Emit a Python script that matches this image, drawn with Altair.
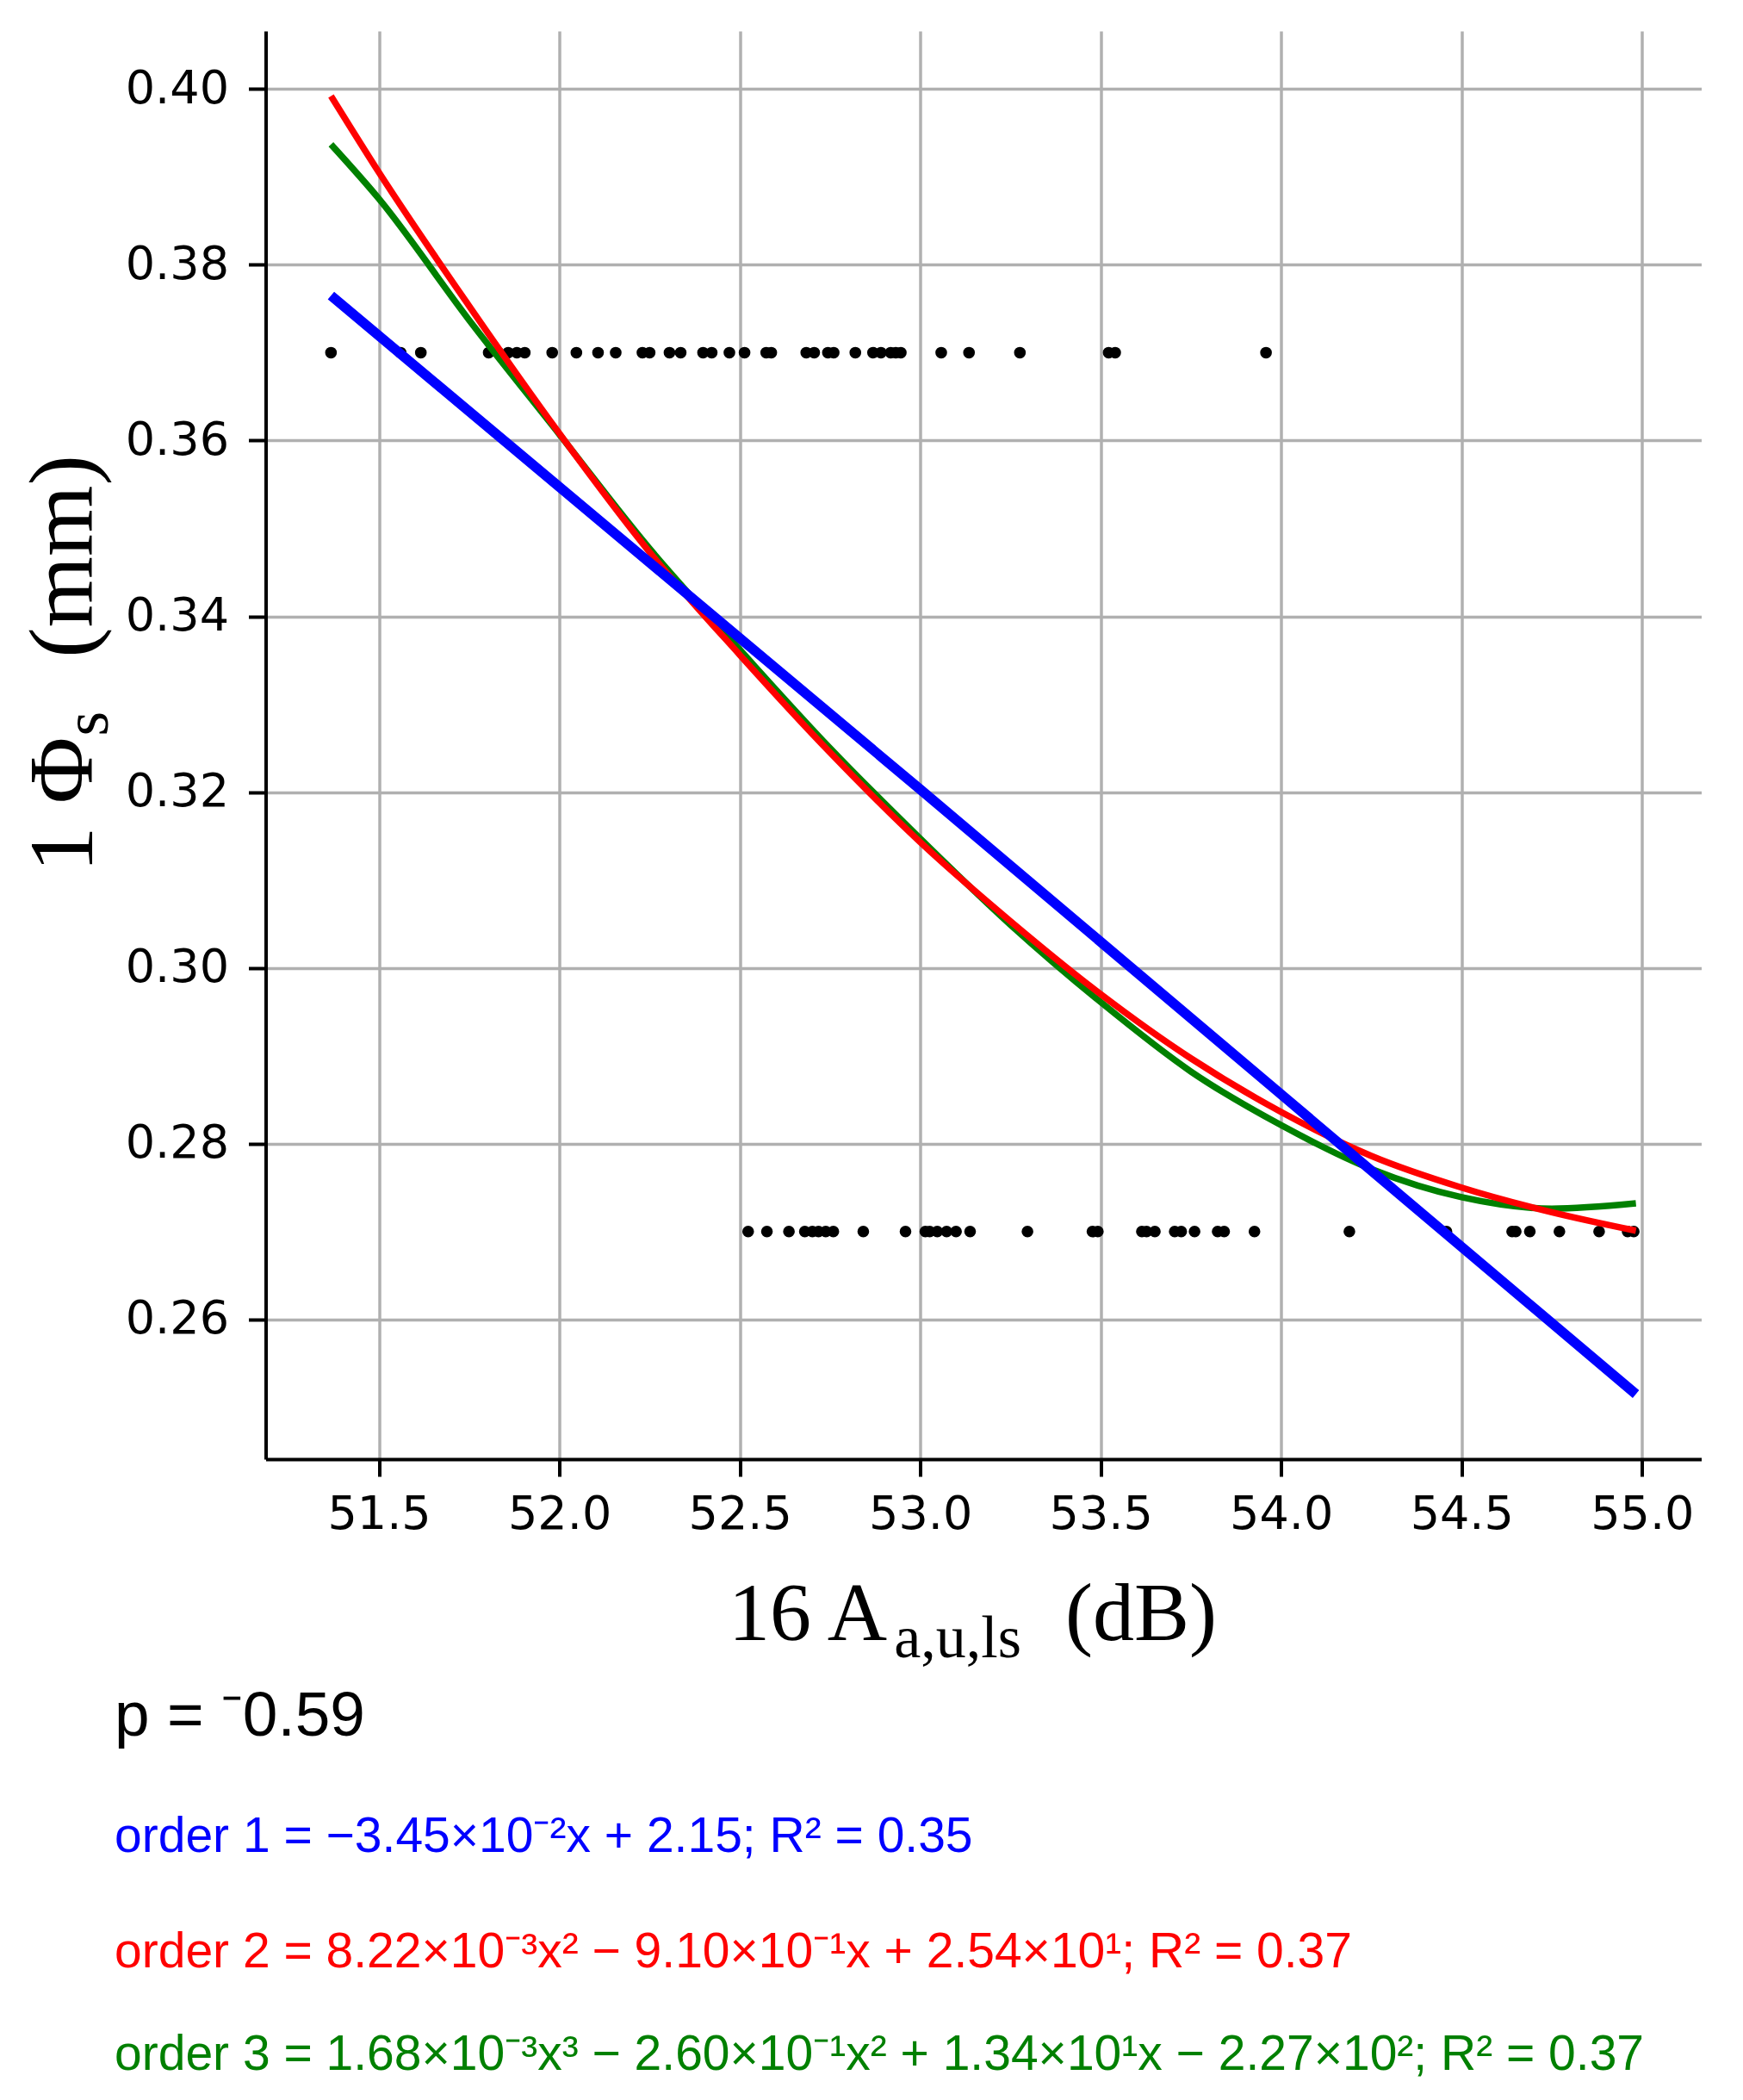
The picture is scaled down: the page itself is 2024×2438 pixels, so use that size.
import altair as alt
import pandas as pd

# ---- data ----
top_x = [51.367, 51.56, 51.616, 51.804, 51.831, 51.858, 51.882, 51.904, 51.980, 52.047,
         52.107, 52.156, 52.23, 52.25, 52.305, 52.336, 52.398, 52.422, 52.471, 52.513,
         52.573, 52.587, 52.684, 52.706, 52.744, 52.76, 52.82, 52.869, 52.891, 52.918,
         52.932, 52.946, 53.058, 53.135, 53.276, 53.522, 53.540, 53.958]
bottom_x = [52.523, 52.575, 52.636, 52.680, 52.701, 52.718, 52.738, 52.759, 52.842, 52.959,
            53.014, 53.026, 53.047, 53.073, 53.099, 53.138, 53.297, 53.477, 53.492, 53.614,
            53.627, 53.650, 53.705, 53.723, 53.760, 53.824, 53.842, 53.926, 54.189, 54.458,
            54.640, 54.650, 54.689, 54.771, 54.881, 54.960, 54.977]
top_level = 0.37
bottom_level = 0.27

fit_x = [51.367, 51.5, 51.75, 52.0, 52.25, 52.5, 52.75, 53.0, 53.25, 53.5, 53.75, 54.0,
         54.25, 54.5, 54.75, 54.983]
order2_y = [0.3992, 0.3905, 0.3753, 0.3608, 0.3473, 0.3356, 0.3245, 0.3143, 0.3053, 0.2970,
            0.2897, 0.2836, 0.2786, 0.2750, 0.2722, 0.2701]
order3_y = [0.3937, 0.3875, 0.3737, 0.3607, 0.3477, 0.3362, 0.3250, 0.3147, 0.3049, 0.2961,
            0.2882, 0.2821, 0.2771, 0.2739, 0.2726, 0.2732]
order1_x = [51.367, 53.0, 54.983]
order1_y = [0.3765, 0.3203, 0.2515]

x_ticks = [51.5, 52.0, 52.5, 53.0, 53.5, 54.0, 54.5, 55.0]
y_ticks = [0.26, 0.28, 0.30, 0.32, 0.34, 0.36, 0.38, 0.40]
x_domain = [51.186, 55.164]
y_domain = [0.2441, 0.4066]

p_text = "p = ⁻0.59"
eq1 = "order 1 = −3.45×10⁻²x + 2.15; R² = 0.35"
eq2 = "order 2 = 8.22×10⁻³x² − 9.10×10⁻¹x + 2.54×10¹; R² = 0.37"
eq3 = "order 3 = 1.68×10⁻³x³ − 2.60×10⁻¹x² + 1.34×10¹x − 2.27×10²; R² = 0.37"

# ---- layout ----
W, H = 1667, 1658
PAD_L, PAD_T = 300.5, 28
OX, OY = 8 + PAD_L, 8 + PAD_T

xs = alt.Scale(domain=x_domain, nice=False, zero=False)
ys = alt.Scale(domain=y_domain, nice=False, zero=False)

common = dict(title=None, labelFont="DejaVu Sans", labelFontSize=54, labelColor="black",
              tickSize=20, tickWidth=4, tickColor="black", domainWidth=4,
              domainColor="black", grid=True, gridColor="#b0b0b0", gridWidth=3.5,
              labelOverlap=False, labelFlush=False, labelBound=False)
x_axis = alt.Axis(values=x_ticks, format=".1f", labelPadding=17, **common)
y_axis = alt.Axis(values=y_ticks, format=".2f", labelPadding=23, **common)

X = alt.X("x:Q", scale=xs, axis=x_axis)
Y = alt.Y("y:Q", scale=ys, axis=y_axis)

pts = pd.DataFrame({"x": top_x + bottom_x,
                    "y": [top_level] * len(top_x) + [bottom_level] * len(bottom_x)})
dots = alt.Chart(pts).mark_circle(size=185, color="black", opacity=1).encode(x=X, y=Y)

def curve(xv, yv, color, width):
    df = pd.DataFrame({"x": xv, "y": yv})
    return alt.Chart(df).mark_line(color=color, strokeWidth=width,
                                   interpolate="monotone").encode(x=X, y=Y)

l3 = curve(fit_x, order3_y, "#008000", 7.5)
l2 = curve(fit_x, order2_y, "#ff0000", 7.5)
l1 = curve(order1_x, order1_y, "#0000ff", 11.5)

def label(s, px, py, size, color="black", font="Liberation Serif", align="center",
          angle=0):
    df = pd.DataFrame({"t": [s]})
    return alt.Chart(df).mark_text(fontSize=size, color=color, font=font, align=align,
                                   baseline="alphabetic", angle=angle).encode(
        text="t:N", x=alt.value(px - OX), y=alt.value(py - OY))

SANS = "Liberation Sans"
texts = [
    # x axis title
    label("16 A", 938, 1904, 96),
    label("a,u,ls", 1112, 1924, 70),
    label("(dB)", 1325, 1904, 96),
    # y axis title
    label("1 Φ", 107, 934, 106, angle=270),
    label("s", 125, 840, 74, angle=270),
    label("(mm)", 107, 646, 106, angle=270),
    # annotations
    label(p_text, 133, 2015, 73, font=SANS, align="left"),
    label(eq1, 133, 2150, 57, color="#0000ff", font=SANS, align="left"),
    label(eq2, 133, 2284, 57, color="#ff0000", font=SANS, align="left"),
    label(eq3, 133, 2403, 57, color="#008000", font=SANS, align="left"),
]

chart = alt.layer(dots, l3, l2, l1, *texts).properties(
    width=W, height=H,
    padding={"left": PAD_L, "top": PAD_T, "right": 38, "bottom": 730},
    autosize=alt.AutoSizeParams(type="none"),
).configure_view(stroke=None)

chart.save("out.html", embed_options={"renderer": "svg", "actions": False})
